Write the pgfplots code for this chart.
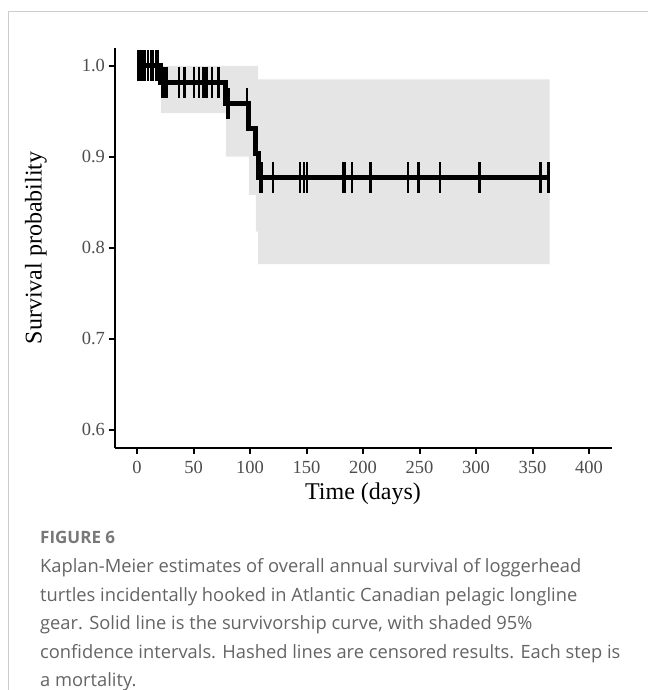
\documentclass[border=0pt]{standalone}
\usepackage{fontspec}
\setmainfont{Liberation Serif}
\newfontfamily\capfont{Open Sans}
\usepackage{pgfplots}
\pgfplotsset{compat=1.18}

\definecolor{cishade}{RGB}{229,229,229}
\definecolor{ticktext}{RGB}{77,77,77}
\definecolor{captext}{RGB}{100,100,100}
\definecolor{figlabel}{RGB}{120,120,120}
\definecolor{framec}{RGB}{204,204,204}

\begin{document}
\begin{tikzpicture}[x=1pt,y=1pt]
\path[use as bounding box] (0,0) rectangle (648,690);
\draw[framec, line width=1pt] (8,0) -- (8,678) -- (648,678);

\begin{axis}[
    at={(114.5pt,242.3pt)}, anchor=south west,
    scale only axis, width=497.2pt, height=400.1pt,
    xmin=-20, xmax=420, ymin=0.58, ymax=1.02,
    axis x line*=bottom, axis y line*=left,
    axis line style={line width=2pt, black},
    xtick={0,50,...,400},
    ytick={0.6,0.7,0.8,0.9,1.0},
    tick align=outside,
    major tick length=6pt,
    tick style={line width=2pt, black},
    /pgf/number format/assume math mode=true,
    yticklabel style={/pgf/number format/.cd, fixed, fixed zerofill, precision=1},
    xticklabel style={yshift=-4pt},
    ticklabel style={font=\fontsize{18.5}{20}\selectfont, text=ticktext},
    clip=false,
]
% 95% confidence band
\addplot[fill=cishade, draw=none] coordinates {
(21,1.0) (107,1.0) (107,0.985) (365,0.985) (365,0.782) (107,0.782)
(107,0.8175) (105,0.8175) (105,0.858) (99,0.858) (99,0.900)
(78.5,0.900) (78.5,0.948) (21,0.948)
} -- cycle;

% survival curve
\addplot[const plot, line width=5pt, black] coordinates {
(0,1.0) (21,0.982) (78.5,0.958) (98.5,0.931) (105,0.904) (107,0.877) (365,0.877)
};

% censored observations
\addplot[only marks, mark=|, mark size=15.5pt, mark options={line width=2.2pt, black}] coordinates {
(0.5,1.0) (3,1.0) (5,1.0) (7,1.0) (9.5,1.0) (12,1.0) (14,1.0) (17,1.0) (18.5,1.0)
(22,0.982) (24,0.982) (26,0.982) (37,0.982) (42,0.982) (50,0.982) (55,0.982)
(58,0.982) (60,0.982) (62,0.982) (66,0.982) (72,0.982)
(79.5,0.958) (81.5,0.958) (97.5,0.958)
(109,0.877) (110,0.877) (120,0.877) (144,0.877) (148,0.877) (150,0.877)
(182,0.877) (184,0.877) (190.5,0.877) (206.5,0.877) (240,0.877) (249,0.877)
(268,0.877) (303,0.877) (357,0.877) (364,0.877)
};
\end{axis}

\node[rotate=90, font=\fontsize{24}{26}\selectfont] at (36,442.3) {Survival probability};
\node[anchor=base, font=\fontsize{24}{26}\selectfont] at (363,190) {Time (days)};

\node[anchor=base west, inner sep=0pt, font=\capfont\bfseries\fontsize{17}{19}\selectfont, text=figlabel] at (40,146) {FIGURE 6};
\begin{scope}[every node/.style={anchor=base west, font=\capfont\fontsize{18.3}{20}\selectfont, text=captext, inner sep=0pt}]
\node at (40,117) {Kaplan-Meier estimates of overall annual survival of loggerhead};
\node at (40,88.5) {turtles incidentally hooked in Atlantic Canadian pelagic longline};
\node at (40,60) {gear. Solid line is the survivorship curve, with shaded 95\%};
\node at (40,31.5) {confidence intervals. Hashed lines are censored results. Each step is};
\node at (40,3.5) {a mortality.};
\end{scope}
\end{tikzpicture}
\end{document}
